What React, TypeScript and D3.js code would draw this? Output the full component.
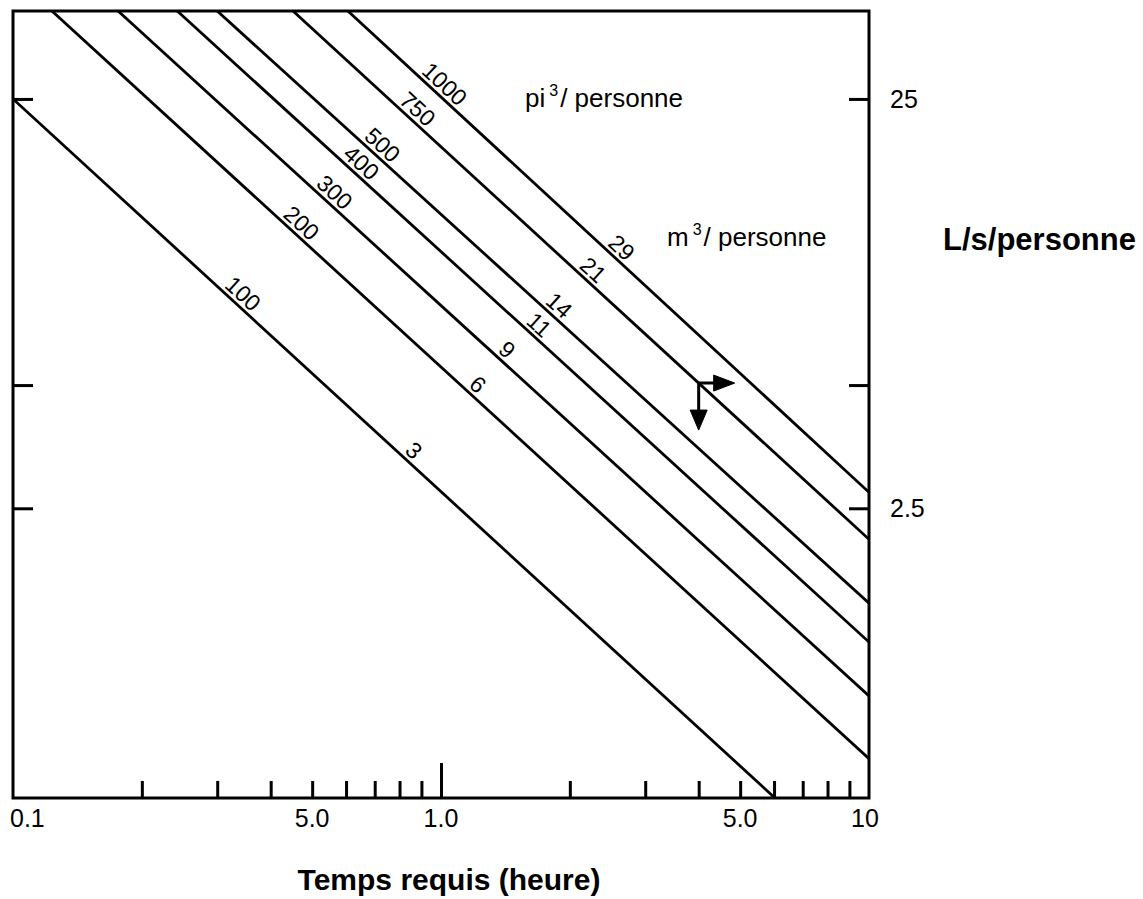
import React, { useEffect, useRef } from 'react'
import * as d3 from 'd3'

// volume per person, one pair of labels per line
const volumesPi3 = ['100', '200', '300', '400', '500', '750', '1000']
const volumesM3 = ['3', '6', '9', '11', '14', '21', '29']

// ends of each line: time (h) and flow (L/s/personne)
const startTime = [0.1, 0.1233, 0.176, 0.242, 0.3, 0.451, 0.606]
const startFlow = [25, 41, 41, 41, 41, 41, 41]
const endTime = [6.03, 10, 10, 10, 10, 10, 10]
const endFlow = [0.49, 0.611, 0.87, 1.178, 1.466, 2.1, 2.735]

// where along each line the labels sit (time, h)
const labelTimePi3 = [0.33, 0.452, 0.54, 0.624, 0.699, 0.844, 0.976]
const labelTimeM3 = [0.827, 1.167, 1.366, 1.623, 1.807, 2.17, 2.53]

const xMinorTicks = [0.2, 0.3, 0.4, 0.5, 0.6, 0.7, 0.8, 0.9, 2, 3, 4, 5, 6, 7, 8, 9]
const xMajorTicks = [1]
const xLabelValues = [0.1, 0.5, 1, 5, 10]
const xLabelTexts = ['0.1', '5.0', '1.0', '5.0', '10']

const yTickValues = [25, 5, 2.5]
const yLabelValues = [25, 2.5]
const yLabelTexts = ['25', '2.5']

// arrow annotation sits on the 750 pi³ line
const arrowLine = 5
const arrowTime = 4.0

const FONT = '"Liberation Sans", Arial, Helvetica, sans-serif'

export default function App() {
    const ref = useRef<SVGSVGElement | null>(null)

    useEffect(() => {
        const svg = d3.select(ref.current)
        svg.selectAll('*').remove()

        const left = 13, top = 11, right = 869, bottom = 798

        const x = d3.scaleLog().domain([0.1, 10]).range([left, right])
        const y = d3.scaleLog().domain([0.49, 41]).range([bottom, top])

        svg.append('defs').append('clipPath').attr('id', 'plot-clip')
            .append('rect')
            .attr('x', left).attr('y', top)
            .attr('width', right - left).attr('height', bottom - top)

        // lines
        const lines = volumesPi3.map((v, i) => {
            const x1 = x(startTime[i]), y1 = y(startFlow[i])
            const x2 = x(endTime[i]), y2 = y(endFlow[i])
            const at = (t: number) => {
                const px = x(t)
                return [px, y1 + (px - x1) * (y2 - y1) / (x2 - x1)]
            }
            const angle = Math.atan2(y2 - y1, x2 - x1) * 180 / Math.PI
            return { x1, y1, x2, y2, at, angle }
        })

        svg.append('g')
            .attr('clip-path', 'url(#plot-clip)')
            .selectAll('line')
            .data(lines)
            .enter()
            .append('line')
            .attr('x1', d => d.x1).attr('y1', d => d.y1)
            .attr('x2', d => d.x2).attr('y2', d => d.y2)
            .attr('stroke', '#000')
            .attr('stroke-width', 2.8)

        // labels on the lines
        const labelData = [
            ...volumesPi3.map((txt, i) => ({ txt, i, t: labelTimePi3[i] })),
            ...volumesM3.map((txt, i) => ({ txt, i, t: labelTimeM3[i] })),
        ]
        svg.append('g')
            .selectAll('text')
            .data(labelData)
            .enter()
            .append('text')
            .attr('transform', d => {
                const [px, py] = lines[d.i].at(d.t)
                return `translate(${px},${py}) rotate(${lines[d.i].angle})`
            })
            .attr('dy', -4)
            .attr('text-anchor', 'middle')
            .style('font-family', FONT)
            .style('font-size', '23px')
            .text(d => d.txt)

        // frame
        svg.append('rect')
            .attr('x', left).attr('y', top)
            .attr('width', right - left).attr('height', bottom - top)
            .attr('fill', 'none')
            .attr('stroke', '#000')
            .attr('stroke-width', 3)

        // inward ticks
        const styleTicks = (g: any) => {
            g.select('.domain').remove()
            g.selectAll('.tick line').attr('stroke', '#000').attr('stroke-width', 3)
            g.selectAll('.tick text').remove()
        }
        svg.append('g')
            .attr('transform', `translate(0,${bottom})`)
            .call(d3.axisTop(x).tickValues(xMinorTicks).tickSize(17).tickFormat(() => ''))
            .call(styleTicks)
        svg.append('g')
            .attr('transform', `translate(0,${bottom})`)
            .call(d3.axisTop(x).tickValues(xMajorTicks).tickSize(35).tickFormat(() => ''))
            .call(styleTicks)
        svg.append('g')
            .attr('transform', `translate(${left},0)`)
            .call(d3.axisRight(y).tickValues(yTickValues).tickSize(20).tickFormat(() => ''))
            .call(styleTicks)
        svg.append('g')
            .attr('transform', `translate(${right},0)`)
            .call(d3.axisLeft(y).tickValues(yTickValues).tickSize(20).tickFormat(() => ''))
            .call(styleTicks)

        // tick labels
        svg.append('g')
            .selectAll('text')
            .data(xLabelValues)
            .enter()
            .append('text')
            .attr('x', (d, i) => i === 0 ? x(d) - 3 : x(d) - (i === xLabelValues.length - 1 ? 4 : 0))
            .attr('y', 827)
            .attr('text-anchor', (d, i) => i === 0 ? 'start' : 'middle')
            .style('font-family', FONT)
            .style('font-size', '25px')
            .text((d, i) => xLabelTexts[i])

        svg.append('g')
            .selectAll('text')
            .data(yLabelValues)
            .enter()
            .append('text')
            .attr('x', 890)
            .attr('y', d => y(d) + 9)
            .style('font-family', FONT)
            .style('font-size', '25px')
            .text((d, i) => yLabelTexts[i])

        // axis titles
        svg.append('text')
            .attr('x', 449).attr('y', 890)
            .attr('text-anchor', 'middle')
            .style('font-family', FONT)
            .style('font-size', '30px')
            .style('font-weight', 'bold')
            .text('Temps requis (heure)')

        svg.append('text')
            .attr('x', 943).attr('y', 250)
            .style('font-family', FONT)
            .style('font-size', '31px')
            .style('font-weight', 'bold')
            .text('L/s/personne')

        // unit captions
        const unit = (px: number, py: number, base: string) => {
            const t = svg.append('text')
                .attr('x', px).attr('y', py)
                .style('font-family', FONT)
                .style('font-size', '26px')
            t.append('tspan').text(base)
            t.append('tspan').attr('dx', 4).attr('dy', -11).style('font-size', '16px').text('3')
            t.append('tspan').attr('dx', 2).attr('dy', 11).text('/ personne')
        }
        unit(525, 107, 'pi')
        unit(667, 246, 'm')

        // arrow annotation
        const [cx, cy] = lines[arrowLine].at(arrowTime)
        const arrow = svg.append('g').attr('stroke', '#000').attr('fill', '#000')
        arrow.append('path')
            .attr('d', `M${cx},${cy}H${cx + 17}M${cx},${cy - 1.5}V${cy + 29}`)
            .attr('fill', 'none')
            .attr('stroke-width', 3)
        arrow.append('path')
            .attr('d', `M${cx + 15},${cy - 8}L${cx + 36},${cy}L${cx + 15},${cy + 8}Z`)
            .attr('stroke-width', 1)
        arrow.append('path')
            .attr('d', `M${cx - 8.5},${cy + 27}L${cx},${cy + 47}L${cx + 8.5},${cy + 27}Z`)
            .attr('stroke-width', 1)
    }, [])

    return (
        <svg
            ref={ref}
            width={1143}
            height={899}
            style={{ position: 'absolute', left: 0, top: 0, background: '#fff', display: 'block' }}
        />
    )
}
